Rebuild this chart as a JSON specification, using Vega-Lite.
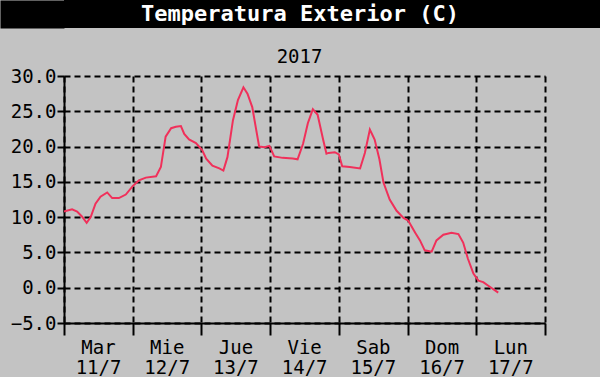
{
  "$schema": "https://vega.github.io/schema/vega-lite/v6.json",
  "padding": 0,
  "background": "#c3c3c3",
  "config": {"view": {"stroke": null}, "font": "DejaVu Sans Mono"},
  "spacing": 20,
  "vconcat": [
    {
      "width": 536,
      "height": 28,
      "view": {"fill": "#000000", "stroke": null},
      "data": {"values": [{"t": "Temperatura Exterior (C)"}]},
      "mark": {"type": "text", "color": "#ffffff", "fontSize": 22, "fontWeight": "bold", "font": "DejaVu Sans Mono", "dx": -32},
      "encoding": {
        "text": {"field": "t", "type": "nominal"},
        "y": {
          "field": "t",
          "type": "nominal",
          "axis": {"title": null, "labels": false, "ticks": false, "grid": false, "domain": true, "domainColor": "#000000", "domainWidth": 64, "offset": 32, "minExtent": 0}
        }
      }
    },
    {
      "width": 481,
      "height": 247,
      "title": {"text": "2017", "fontSize": 19, "font": "DejaVu Sans Mono", "fontWeight": "normal", "color": "#000000", "offset": 2, "dx": -5, "dy": 2},
      "data": {"values": [
        {"t": "2017-07-11T00:00:00Z", "v": 10.8},
        {"t": "2017-07-11T02:50:00Z", "v": 11.1},
        {"t": "2017-07-11T04:35:00Z", "v": 10.8},
        {"t": "2017-07-11T06:15:00Z", "v": 10.1},
        {"t": "2017-07-11T07:55:00Z", "v": 9.2},
        {"t": "2017-07-11T09:20:00Z", "v": 10.0},
        {"t": "2017-07-11T11:00:00Z", "v": 11.9},
        {"t": "2017-07-11T12:45:00Z", "v": 12.9},
        {"t": "2017-07-11T15:05:00Z", "v": 13.5},
        {"t": "2017-07-11T16:50:00Z", "v": 12.7},
        {"t": "2017-07-11T19:10:00Z", "v": 12.7},
        {"t": "2017-07-11T21:35:00Z", "v": 13.2},
        {"t": "2017-07-12T00:00:00Z", "v": 14.4},
        {"t": "2017-07-12T02:10:00Z", "v": 15.2},
        {"t": "2017-07-12T04:35:00Z", "v": 15.6},
        {"t": "2017-07-12T08:10:00Z", "v": 15.8},
        {"t": "2017-07-12T09:50:00Z", "v": 17.1},
        {"t": "2017-07-12T11:30:00Z", "v": 21.4},
        {"t": "2017-07-12T13:25:00Z", "v": 22.6},
        {"t": "2017-07-12T15:05:00Z", "v": 22.8},
        {"t": "2017-07-12T16:50:00Z", "v": 22.9},
        {"t": "2017-07-12T18:00:00Z", "v": 21.8},
        {"t": "2017-07-12T19:40:00Z", "v": 21.0},
        {"t": "2017-07-12T22:05:00Z", "v": 20.5},
        {"t": "2017-07-13T00:15:00Z", "v": 19.5},
        {"t": "2017-07-13T01:40:00Z", "v": 18.3},
        {"t": "2017-07-13T03:50:00Z", "v": 17.3},
        {"t": "2017-07-13T06:15:00Z", "v": 16.9},
        {"t": "2017-07-13T07:40:00Z", "v": 16.6},
        {"t": "2017-07-13T09:05:00Z", "v": 18.5},
        {"t": "2017-07-13T11:00:00Z", "v": 23.7},
        {"t": "2017-07-13T12:45:00Z", "v": 26.6},
        {"t": "2017-07-13T14:40:00Z", "v": 28.4},
        {"t": "2017-07-13T16:05:00Z", "v": 27.5},
        {"t": "2017-07-13T17:45:00Z", "v": 25.6},
        {"t": "2017-07-13T19:10:00Z", "v": 22.3},
        {"t": "2017-07-13T20:10:00Z", "v": 20.0},
        {"t": "2017-07-13T22:05:00Z", "v": 19.9},
        {"t": "2017-07-13T23:45:00Z", "v": 20.1},
        {"t": "2017-07-14T01:25:00Z", "v": 18.6},
        {"t": "2017-07-14T04:20:00Z", "v": 18.4},
        {"t": "2017-07-14T07:55:00Z", "v": 18.3},
        {"t": "2017-07-14T09:35:00Z", "v": 18.2},
        {"t": "2017-07-14T11:30:00Z", "v": 20.4},
        {"t": "2017-07-14T13:10:00Z", "v": 23.3},
        {"t": "2017-07-14T14:55:00Z", "v": 25.3},
        {"t": "2017-07-14T16:35:00Z", "v": 24.5},
        {"t": "2017-07-14T18:30:00Z", "v": 21.0},
        {"t": "2017-07-14T19:40:00Z", "v": 19.0},
        {"t": "2017-07-14T20:25:00Z", "v": 19.1},
        {"t": "2017-07-14T22:35:00Z", "v": 19.2},
        {"t": "2017-07-15T00:00:00Z", "v": 18.9},
        {"t": "2017-07-15T01:10:00Z", "v": 17.2},
        {"t": "2017-07-15T03:50:00Z", "v": 17.1},
        {"t": "2017-07-15T07:25:00Z", "v": 16.9},
        {"t": "2017-07-15T09:05:00Z", "v": 19.1},
        {"t": "2017-07-15T10:50:00Z", "v": 22.4},
        {"t": "2017-07-15T12:30:00Z", "v": 21.0},
        {"t": "2017-07-15T14:10:00Z", "v": 18.2},
        {"t": "2017-07-15T15:35:00Z", "v": 14.9},
        {"t": "2017-07-15T17:45:00Z", "v": 12.5},
        {"t": "2017-07-15T20:10:00Z", "v": 10.9},
        {"t": "2017-07-15T22:35:00Z", "v": 9.9},
        {"t": "2017-07-16T00:15:00Z", "v": 9.5},
        {"t": "2017-07-16T02:40:00Z", "v": 7.8},
        {"t": "2017-07-16T04:20:00Z", "v": 6.7},
        {"t": "2017-07-16T06:00:00Z", "v": 5.3},
        {"t": "2017-07-16T08:25:00Z", "v": 5.1},
        {"t": "2017-07-16T10:05:00Z", "v": 6.7},
        {"t": "2017-07-16T12:30:00Z", "v": 7.5},
        {"t": "2017-07-16T15:20:00Z", "v": 7.8},
        {"t": "2017-07-16T17:45:00Z", "v": 7.6},
        {"t": "2017-07-16T19:25:00Z", "v": 6.4},
        {"t": "2017-07-16T21:05:00Z", "v": 4.1},
        {"t": "2017-07-16T23:00:00Z", "v": 2.0},
        {"t": "2017-07-17T00:45:00Z", "v": 1.0},
        {"t": "2017-07-17T02:25:00Z", "v": 0.8},
        {"t": "2017-07-17T04:50:00Z", "v": 0.1},
        {"t": "2017-07-17T07:40:00Z", "v": -0.7}
      ]},
      "mark": {"type": "line", "color": "#f0305a", "strokeWidth": 2},
      "encoding": {
        "x": {
          "field": "t",
          "type": "temporal",
          "scale": {
            "type": "utc",
            "nice": false,
            "domain": [
              {"year": 2017, "month": 7, "date": 11, "utc": true},
              {"year": 2017, "month": 7, "date": 18, "utc": true}
            ]
          },
          "axis": {
            "title": null,
            "values": [
              {"year": 2017, "month": 7, "date": 11, "utc": true},
              {"year": 2017, "month": 7, "date": 12, "utc": true},
              {"year": 2017, "month": 7, "date": 13, "utc": true},
              {"year": 2017, "month": 7, "date": 14, "utc": true},
              {"year": 2017, "month": 7, "date": 15, "utc": true},
              {"year": 2017, "month": 7, "date": 16, "utc": true},
              {"year": 2017, "month": 7, "date": 17, "utc": true},
              {"year": 2017, "month": 7, "date": 18, "utc": true}
            ],
            "labelExpr": "utcdate(datum.value) == 18 ? '' : [['Dom','Lun','Mar','Mie','Jue','Vie','Sab'][utcday(datum.value)], utcdate(datum.value) + '/' + (utcmonth(datum.value) + 1)]",
            "labelOffset": 34,
            "labelAlign": "center",
            "labelBaseline": "top",
            "labelPadding": 3,
            "labelFontSize": 19,
            "labelLineHeight": 20,
            "labelFont": "DejaVu Sans Mono",
            "labelColor": "#000000",
            "labelOverlap": false,
            "labelFlush": false,
            "labelBound": false,
            "ticks": true,
            "tickSize": 12,
            "tickColor": "#000000",
            "tickWidth": 2,
            "tickOpacity": 1,
            "domainColor": "#000000",
            "domainWidth": 2,
            "grid": true,
            "gridColor": "#000000",
            "gridDash": [6, 4],
            "gridWidth": 2,
            "gridOpacity": 1
          }
        },
        "y": {
          "field": "v",
          "type": "quantitative",
          "scale": {"domain": [-5, 30], "nice": false, "zero": false},
          "axis": {
            "title": null,
            "values": [-5, 0, 5, 10, 15, 20, 25, 30],
            "format": ".1f",
            "labelFontSize": 19,
            "labelFont": "DejaVu Sans Mono",
            "labelColor": "#000000",
            "labelPadding": 1,
            "minExtent": 64,
            "tickSize": 7,
            "tickColor": "#000000",
            "tickWidth": 2,
            "domainColor": "#000000",
            "domainWidth": 2,
            "grid": true,
            "gridColor": "#000000",
            "gridDash": [6, 4],
            "gridWidth": 2,
            "gridOpacity": 1
          }
        }
      }
    }
  ]
}
